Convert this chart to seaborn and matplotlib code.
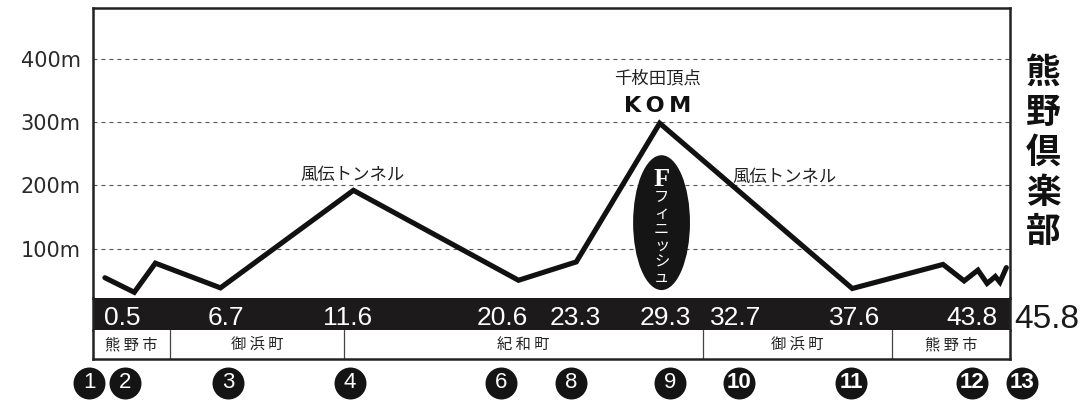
import matplotlib
matplotlib.use("Agg")
import matplotlib.pyplot as plt
from matplotlib.patches import Ellipse
import pandas as pd
import seaborn as sns


# course profile: horizontal position across the frame (0-100) and elevation (m)
prof_pos = [1.3, 4.5, 6.8, 13.9, 28.4, 46.4, 52.7, 61.8, 82.8, 92.7, 95.0, 96.5, 97.5, 98.4, 98.9, 99.6]
prof_elev = [54, 31, 77, 38, 192, 50, 79, 298, 37, 75, 49, 66, 45, 56, 47, 70]

# distance marks in the black band
km_labels = ['0.5', '6.7', '11.6', '20.6', '23.3', '29.3', '32.7', '37.6', '43.8']
km_pos = [3.2, 14.5, 27.8, 44.6, 52.6, 62.4, 70.1, 83.1, 95.9]
total_km = '45.8'
total_pos = 104.0

# towns along the course
towns = ['熊野市', '御浜町', '紀和町', '御浜町', '熊野市']
town_edges = [0, 8.4, 27.4, 66.5, 87.1, 100]

# numbered checkpoints
cp_numbers = ['1', '2', '3', '4', '6', '8', '9', '10', '11', '12', '13']
cp_pos = [-0.4, 3.5, 14.7, 28.0, 44.5, 52.1, 62.9, 70.4, 82.7, 95.9, 101.3]

elev_ticks = [100, 200, 300, 400]
tunnel_name = '風伝トンネル'
tunnel_pos = [22.6, 69.7]
tunnel_elev = [216, 213]
title = '熊野倶楽部'

profile = pd.DataFrame({'pos': prof_pos, 'elev': prof_elev})
checkpoints = pd.DataFrame({'pos': cp_pos, 'y': [0.5] * len(cp_pos), 'num': cp_numbers})

sns.set_style("white")
plt.rcParams['font.family'] = ['DejaVu Sans', 'Noto Sans CJK JP']
JP = ['Noto Sans CJK JP', 'DejaVu Sans']

fig = plt.figure(figsize=(10.91, 4.0), dpi=100)
L, W = 93 / 1091, 917 / 1091
ax = fig.add_axes([L, 1 - 298 / 400, W, (298 - 8) / 400])
band = fig.add_axes([L, 1 - 330 / 400, W, 32 / 400])
dist = fig.add_axes([L, 1 - 359 / 400, W, 29 / 400])
marks = fig.add_axes([L, 0, W, 34 / 400])

frame_c = '#222222'

# --- profile ---
sns.lineplot(data=profile, x='pos', y='elev', ax=ax, color='#111111', lw=3.7,
             sort=False)
for ln in ax.lines:
    ln.set_solid_joinstyle('miter')
ax.set_xlim(0, 100)
ax.set_ylim(22, 480)
ax.set_yticks(elev_ticks)
ax.set_yticklabels([f'{v}m' for v in elev_ticks], fontsize=15, color='#2a2a2a')
ax.set_xticks([])
ax.tick_params(axis='y', length=0, pad=9)
ax.grid(axis='y', color='#555555', lw=0.8, linestyle=(0, (3.6, 3.6)))
ax.set_axisbelow(True)
ax.set_xlabel('')
ax.set_ylabel('')
for s in ['left', 'top', 'right']:
    ax.spines[s].set_linewidth(1.8)
    ax.spines[s].set_color(frame_c)
ax.spines['bottom'].set_visible(False)

for x, y in zip(tunnel_pos, tunnel_elev):
    ax.text(x, y, tunnel_name, family=JP, fontsize=12.5, color='#222222',
            ha='left', va='center')

kom_x = prof_pos[prof_elev.index(max(prof_elev))] - 0.2
ax.text(kom_x, 369, '千枚田頂点', family=JP, fontsize=12.5, color='#222222',
        ha='center', va='center')
ax.text(kom_x, 326, 'K\u2009O\u2009M', fontsize=16, fontweight='bold',
        color='#111111', ha='center', va='center')

ax.add_patch(Ellipse((62.0, 141), 6.2, 213, facecolor='#151515',
                     edgecolor='none', zorder=3))
ax.text(62.0, 209, 'F', family=['Liberation Serif', 'DejaVu Serif'],
        fontsize=19, fontweight='bold', color='white', ha='center',
        va='center', zorder=4)
ax.text(62.0, 117, '\n'.join('フィニッシュ'), family=JP, fontsize=11,
        color='white', ha='center', va='center', linespacing=0.92, zorder=4)

# --- black distance band ---
band.set_facecolor('#1c1a1b')
band.set_xlim(0, 100)
band.set_ylim(0, 1)
band.set_xticks([])
band.set_yticks([])
for s in ['left', 'right']:
    band.spines[s].set_linewidth(1.8)
    band.spines[s].set_color(frame_c)
band.spines['top'].set_visible(False)
band.spines['bottom'].set_visible(False)
for lab, x in zip(km_labels, km_pos):
    band.text(x, 0.16, lab, family=['Liberation Sans', 'DejaVu Sans'],
              fontsize=19, color='white', ha='center', va='baseline')
band.text(total_pos, 0.06, total_km, family=['Liberation Sans', 'DejaVu Sans'],
          fontsize=24, color='#1a1a1a', ha='center', va='baseline', clip_on=False)

# --- town row ---
dist.set_xlim(0, 100)
dist.set_ylim(0, 1)
dist.set_xticks([])
dist.set_yticks([])
for s in ['left', 'right', 'bottom']:
    dist.spines[s].set_linewidth(1.8)
    dist.spines[s].set_color(frame_c)
dist.spines['top'].set_visible(False)
for e in town_edges[1:-1]:
    dist.axvline(e, color='#444444', lw=0.9)
for i, t in enumerate(towns):
    dist.text((town_edges[i] + town_edges[i + 1]) / 2, 0.5, ' '.join(t), family=JP,
              fontsize=11, color='#222222', ha='center', va='center')

# --- checkpoint circles ---
sns.scatterplot(data=checkpoints, x='pos', y='y', ax=marks, s=530,
                color='#141414', linewidth=0, clip_on=False, legend=False)
marks.set_xlim(0, 100)
marks.set_ylim(0, 1)
marks.axis('off')
for n, x in zip(cp_numbers, cp_pos):
    if len(n) == 1:
        marks.text(x, 0.5, n, family=['Liberation Sans', 'DejaVu Sans'],
                   fontsize=16, color='white', ha='center', va='center',
                   clip_on=False)
    else:
        marks.text(x, 0.5, n, family=['Liberation Sans Narrow', 'Liberation Sans'],
                   fontsize=16, fontweight='bold', color='white', ha='center',
                   va='center', clip_on=False)

# --- vertical title on the right ---
for i, ch in enumerate(title):
    fig.text(1043 / 1091, 1 - (72 + 40 * i) / 400, ch, family=JP, fontsize=25,
             fontweight='bold', color='#111111', ha='center', va='center')

fig.savefig('out.png', dpi=100)
